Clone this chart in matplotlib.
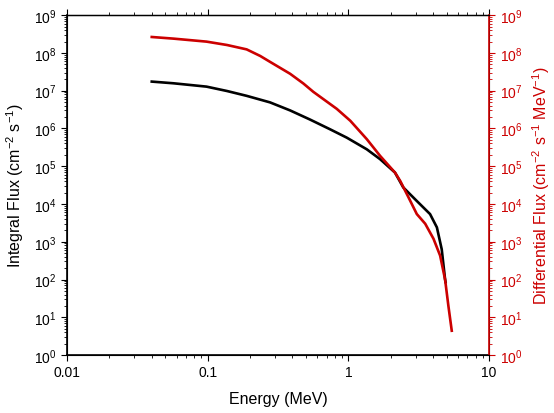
import matplotlib
matplotlib.use("Agg")
import matplotlib.pyplot as plt
from matplotlib.ticker import LogLocator, NullFormatter

plt.rcParams["font.family"] = ["Liberation Sans", "DejaVu Sans"]
plt.rcParams["mathtext.fontset"] = "custom"
plt.rcParams["mathtext.rm"] = "Liberation Sans"
plt.rcParams["mathtext.default"] = "regular"

# integral flux (black, left axis)
e_int = [0.040, 0.057, 0.098, 0.137, 0.189, 0.277, 0.385, 0.533, 0.74, 0.973,
         1.35, 1.68, 2.14, 2.45, 3.06, 3.8, 4.25, 4.6, 4.86, 4.9]
flux_int = [1.74e7, 1.57e7, 1.28e7, 9.8e6, 7.3e6, 4.9e6, 3.0e6, 1.72e6, 9.5e5, 5.7e5,
            2.8e5, 1.53e5, 6.8e4, 2.75e4, 1.2e4, 5.4e3, 2.4e3, 6.3e2, 100, 85]

# differential flux (red, right axis)
e_diff = [0.040, 0.057, 0.098, 0.137, 0.189, 0.236, 0.277, 0.385, 0.478, 0.563,
          0.826, 1.03, 1.35, 1.68, 2.14, 2.33, 2.67, 3.06, 3.51, 4.02,
          4.48, 4.86, 5.13, 5.42]
flux_diff = [2.64e8, 2.39e8, 1.99e8, 1.62e8, 1.24e8, 8.3e7, 5.8e7, 2.8e7, 1.55e7, 9.3e6,
             3.3e6, 1.6e6, 5.2e5, 1.87e5, 6.8e4, 4.1e4, 1.5e4, 5.4e3, 3.0e3, 1.2e3,
             4.3e2, 1.0e2, 20, 4.4]

red = "#cc0000"

fig = plt.figure(figsize=(5.54, 4.14), dpi=100)
ax = fig.add_axes([0.121, 0.140, 0.762, 0.821])
ax2 = ax.twinx()

ax.plot(e_int, flux_int, color="black", lw=1.9, zorder=3)
ax2.plot(e_diff, flux_diff, color=red, lw=1.9)

for a in (ax, ax2):
    a.set_yscale("log")
    a.set_ylim(1, 1e9)
    a.yaxis.set_major_locator(LogLocator(base=10, numticks=12))
    a.yaxis.set_minor_locator(LogLocator(base=10, subs=range(2, 10), numticks=12))
    a.yaxis.set_minor_formatter(NullFormatter())

ax.set_xscale("log")
ax.set_xlim(0.01, 10)
ax.set_xticks([0.01, 0.1, 1, 10])
ax.set_xticklabels(["0.01", "0.1", "1", "10"])
ax.xaxis.set_minor_formatter(NullFormatter())

ax.tick_params(axis="x", which="both", direction="out", top=True, labelsize=10)
ax.tick_params(axis="x", which="major", length=4)
ax.tick_params(axis="x", which="minor", length=2.5)
ax.tick_params(axis="y", which="major", direction="out", length=4, labelsize=10)
ax.tick_params(axis="y", which="minor", direction="out", length=2.5)

ax2.tick_params(axis="y", which="both", colors=red, direction="out", labelsize=10)
ax2.tick_params(axis="y", which="major", length=4)
ax2.tick_params(axis="y", which="minor", length=2.5)
ax2.spines["right"].set_color(red)
ax2.spines["right"].set_linewidth(1.2)
ax.spines["left"].set_linewidth(1.2)
ax.spines["bottom"].set_linewidth(1.2)
ax.spines["top"].set_linewidth(1.0)

ax.set_xlabel("Energy (MeV)", fontsize=11.5, labelpad=8)
ax.set_ylabel("Integral Flux (cm$^{-2}$ s$^{-1}$)", fontsize=11.5, labelpad=6)
ax2.set_ylabel("Differential Flux (cm$^{-2}$ s$^{-1}$ MeV$^{-1}$)", fontsize=11.5,
               color=red, labelpad=6)

fig.savefig("out.png", dpi=100)
